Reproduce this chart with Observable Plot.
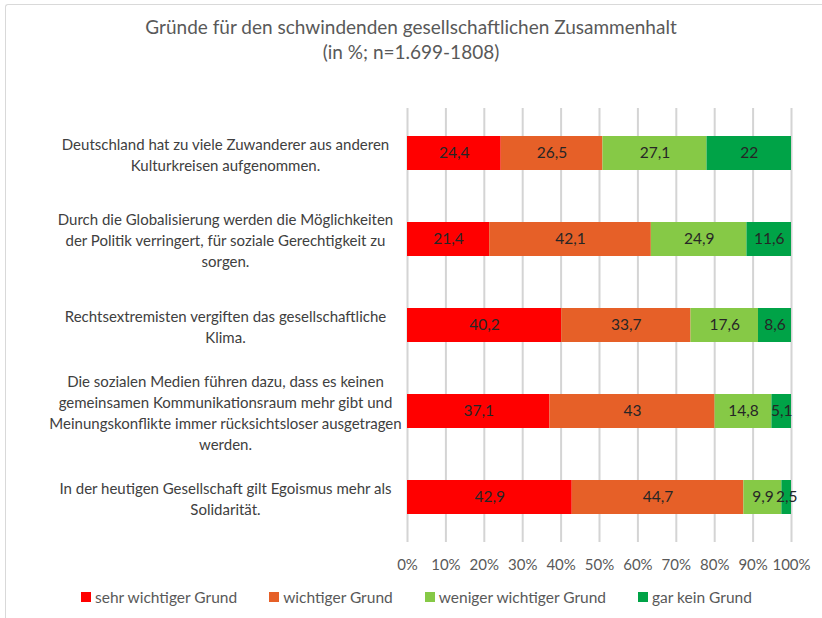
<!DOCTYPE html>
<html>
<head>
<meta charset="utf-8">
<script src="https://cdn.jsdelivr.net/npm/d3@7"></script>
<script src="https://cdn.jsdelivr.net/npm/@observablehq/plot@0.6"></script>
<style>
  html, body { margin: 0; padding: 0; background: #fff; overflow: hidden; }
  #chart { position: relative; width: 822px; height: 618px; overflow: hidden; font-family: Lato, "Open Sans", sans-serif; }
  #frame { position: absolute; left: 5px; top: 4px; width: 900px; height: 700px; box-sizing: border-box; border-left: 1.5px solid #d9d9d9; border-top: 1.5px solid #d9d9d9; border-top-left-radius: 3px; z-index: 3; pointer-events: none; }
  #title { position: absolute; left: 0; top: 14px; width: 822px; text-align: center; font-size: 19px; line-height: 25px; color: #595959; z-index: 2; }
  #plot { position: absolute; left: -1px; top: 0px; }
  #legend { position: absolute; left: 81px; top: 588px; display: flex; gap: 32px; font-size: 15.5px; color: #595959; z-index: 2; }
  #legend .item { display: flex; align-items: center; }
  #legend .sw { width: 10px; height: 10px; margin-right: 4px; }
</style>
</head>
<body>
<div id="chart">
  <div id="frame"></div>
  <div id="title"></div>
  <div id="plot"></div>
  <div id="legend"></div>
</div>
<script>
const titleLines = ["Gründe für den schwindenden gesellschaftlichen Zusammenhalt", "(in %; n=1.699-1808)"];
const categories = [
  "Deutschland hat zu viele Zuwanderer aus anderen\nKulturkreisen aufgenommen.",
  "Durch die Globalisierung werden die Möglichkeiten\nder Politik verringert, für soziale Gerechtigkeit zu\nsorgen.",
  "Rechtsextremisten vergiften das gesellschaftliche\nKlima.",
  "Die sozialen Medien führen dazu, dass es keinen\ngemeinsamen Kommunikationsraum mehr gibt und\nMeinungskonflikte immer rücksichtsloser ausgetragen\nwerden.",
  "In der heutigen Gesellschaft gilt Egoismus mehr als\nSolidarität."
];
const levels = ["sehr wichtiger Grund", "wichtiger Grund", "weniger wichtiger Grund", "gar kein Grund"];
const colors = ["#ff0000", "#e66028", "#86c946", "#00a347"];
const sehrWichtig = [24.4, 21.4, 40.2, 37.1, 42.9];
const wichtig = [26.5, 42.1, 33.7, 43, 44.7];
const wenigerWichtig = [27.1, 24.9, 17.6, 14.8, 9.9];
const garKein = [22, 11.6, 8.6, 5.1, 2.5];
const xTicks = [0, 10, 20, 30, 40, 50, 60, 70, 80, 90, 100];
const xTickLabels = ["0%", "10%", "20%", "30%", "40%", "50%", "60%", "70%", "80%", "90%", "100%"];

const series = [sehrWichtig, wichtig, wenigerWichtig, garKein];
const data = [];
categories.forEach((cat, i) => {
  levels.forEach((lev, j) => data.push({cat, level: lev, value: series[j][i]}));
});
const fmt = v => String(v).replace(".", ",");
const tickVals = xTicks.map(t => t / 100);
const tickFmt = d => xTickLabels[xTicks.indexOf(Math.round(d * 100))];

document.getElementById("title").innerHTML = titleLines.join("<br>");

const stackOpts = {offset: "normalize", x: "value", y: "cat", z: "level"};

const plot = Plot.plot({
  width: 822,
  height: 618,
  marginLeft: 408,
  marginRight: 30,
  marginTop: 108,
  marginBottom: 76,
  style: {fontFamily: "Lato, 'Open Sans', sans-serif", fontSize: "15px", background: "transparent"},
  x: {domain: [0, 1]},
  y: {domain: categories, paddingInner: 0.6, paddingOuter: 0.3},
  color: {domain: levels, range: colors},
  marks: [
    Plot.gridX(tickVals, {stroke: "#d4d4d4", strokeOpacity: 1, strokeWidth: 2}),
    Plot.barX(data, Plot.stackX({...stackOpts, fill: "level"})),
    Plot.text(data, Plot.stackX({...stackOpts, text: d => fmt(d.value), fill: "#262626", fontSize: 15.5})),
    Plot.axisX({ticks: tickVals, tickFormat: tickFmt, tickSize: 0, tickPadding: 17, fontSize: 15, fill: "#595959", label: null}),
    Plot.axisY({tickSize: 0, tickPadding: 182, textAnchor: "middle", lineHeight: 1.4, fontSize: 15, fill: "#404040", label: null})
  ]
});
document.getElementById("plot").appendChild(plot);

const legend = document.getElementById("legend");
levels.forEach((lev, i) => {
  const it = document.createElement("div");
  it.className = "item";
  it.innerHTML = `<span class="sw" style="background:${colors[i]}"></span><span>${lev}</span>`;
  legend.appendChild(it);
});
</script>
</body>
</html>
